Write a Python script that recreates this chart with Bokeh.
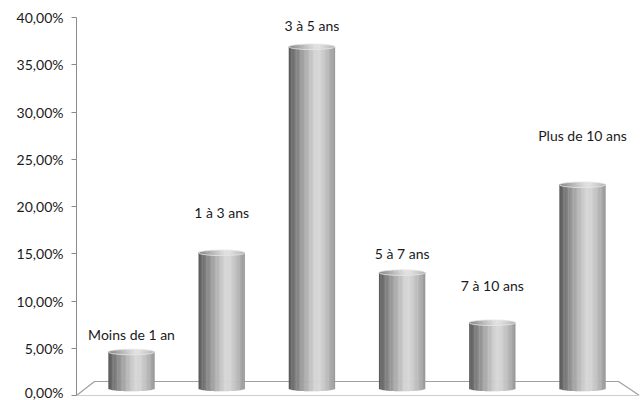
import numpy as np
from bokeh.plotting import figure
from bokeh.models import ColumnDataSource, FixedTicker, Range1d
from bokeh.core.properties import value
from bokeh.embed import file_html
from bokeh.resources import INLINE

# ---- data ----
categories = ["Moins de 1 an", "1 à 3 ans", "3 à 5 ans", "5 à 7 ans", "7 à 10 ans", "Plus de 10 ans"]
shares = [4.6, 15.1, 36.9, 13.0, 7.7, 22.3]
tick_values = [0, 5, 10, 15, 20, 25, 30, 35, 40]
tick_labels = ["0,00%", "5,00%", "10,00%", "15,00%", "20,00%", "25,00%", "30,00%", "35,00%", "40,00%"]

# ---- layout / style ----
W, H = 641, 400
LEFT, RIGHT, TOP, BOTTOM = 76, 2, 17, 5
Y_MAX = 40
X_START = -0.61
PX_PER_X = 90.2
X_END = X_START + (W - LEFT - RIGHT) / PX_PER_X
PX_PER_Y = (H - TOP - BOTTOM) / Y_MAX

BAR_W = 46 / PX_PER_X
RY = 2.8 / PX_PER_Y           # ellipse half-height in data units
BASE = 7 / PX_PER_Y           # bar base (mid-depth of floor)
DEPTH_Y = 14 / PX_PER_Y
N_STRIPS = 36
label_dy = [-18, -40, -21, -19, -37, -49]   # px offsets of the labels above bar tops

FONT = "Lato"
FONT_SIZE = "14px"
TEXT_COLOR = "#1a1a1a"
AXIS_COLOR = "#8a8a8a"
FLOOR_COLOR = "#a0a0a0"

stops_pos = [0.0, 0.08, 0.3, 0.58, 0.68, 0.85, 1.0]
stops_val = [88, 108, 160, 214, 212, 185, 150]


def gray(v):
    v = int(max(0, min(255, round(v))))
    return "#%02x%02x%02x" % (v, v, v)


p = figure(width=W, height=H, output_backend="svg", toolbar_location=None,
           x_range=Range1d(X_START, X_END), y_range=Range1d(0, Y_MAX),
           x_axis_location=None, min_border_left=LEFT, min_border_right=RIGHT,
           min_border_top=TOP, min_border_bottom=BOTTOM)
p.outline_line_color = None
p.grid.grid_line_color = None
p.background_fill_color = "white"
p.border_fill_color = "white"

# floor (3D base)
fx = [X_START, X_END, X_END - 21 / PX_PER_X, X_START + 18 / PX_PER_X]
fy = [0, 0, DEPTH_Y, DEPTH_Y]
p.patch(fx, fy, fill_color="white", line_color=FLOOR_COLOR, line_width=1.2)

# cylinders made of narrow vertical strips (horizontal gradient)
xs, bots, tops, cols = [], [], [], []
cxs, cb, ct, ccols = [], [], [], []
sw = BAR_W / N_STRIPS
for i, v in enumerate(shares):
    for k in range(N_STRIPS):
        t = (k + 0.5) / N_STRIPS
        u = 2 * t - 1
        c = np.sqrt(max(0.0, 1 - u * u))
        g = np.interp(t, stops_pos, stops_val)
        x = i - BAR_W / 2 + (k + 0.5) * sw
        xs.append(x)
        bots.append(BASE - RY * c)
        tops.append(v)
        cols.append(gray(g))
        cxs.append(x)
        cb.append(v - RY * c)
        ct.append(v + RY * c)
        ccols.append(gray(g + 0.25 * (255 - g)))

p.vbar(x=xs, width=sw * 1.3, bottom=bots, top=tops, fill_color=cols, line_color=None)
p.vbar(x=cxs, width=sw * 1.3, bottom=cb, top=ct, fill_color=ccols, line_color=None)
p.ellipse(x=list(range(len(shares))), y=shares, width=BAR_W, height=2 * RY * PX_PER_Y,
          width_units="data", height_units="screen", fill_color=None,
          line_color="#e6e6e6", line_width=0.8)

# category labels above bars
src = ColumnDataSource(dict(x=list(range(len(categories))), y=shares, text=categories, dy=label_dy))
p.text(x="x", y="y", text="text", y_offset="dy", source=src, text_align="center",
       text_baseline="middle", text_font=value(FONT), text_font_size=FONT_SIZE, text_color=TEXT_COLOR)

# y axis
ax = p.yaxis[0]
ax.ticker = FixedTicker(ticks=tick_values)
ax.major_label_overrides = {v: l for v, l in zip(tick_values, tick_labels)}
ax.axis_line_color = AXIS_COLOR
ax.major_tick_line_color = AXIS_COLOR
ax.minor_tick_line_color = None
ax.major_tick_in = 0
ax.major_tick_out = 5
ax.major_label_standoff = 8
ax.major_label_text_font = FONT
ax.major_label_text_font_size = FONT_SIZE
ax.major_label_text_color = TEXT_COLOR

open("out.html", "w").write(file_html(p, INLINE))
